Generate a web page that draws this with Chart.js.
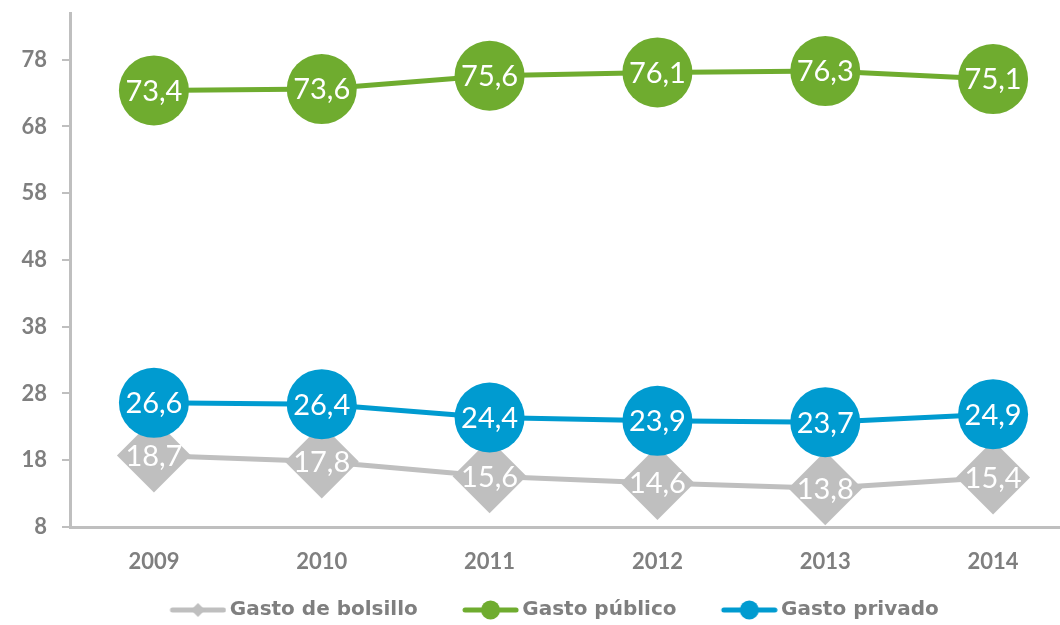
<!DOCTYPE html>
<html>
<head>
<meta charset="utf-8">
<script src="https://cdn.jsdelivr.net/npm/chart.js@4"></script>
<style>
  html, body { margin: 0; padding: 0; background: #fff; overflow: hidden; }
  #wrap { width: 1060px; height: 625px; overflow: hidden; }
</style>
</head>
<body>
<div id="wrap"><canvas id="chart" width="1077" height="625"></canvas></div>
<script>
// Data
var years = ['2009', '2010', '2011', '2012', '2013', '2014'];
var yTicks = [8, 18, 28, 38, 48, 58, 68, 78];
var gastoBolsillo = [18.7, 17.8, 15.6, 14.6, 13.8, 15.4];
var gastoPublico = [73.4, 73.6, 75.6, 76.1, 76.3, 75.1];
var gastoPrivado = [26.6, 26.4, 24.4, 23.9, 23.7, 24.9];

var GREY = '#BFBFBF';
var GREEN = '#6FAC2F';
var BLUE = '#009BD0';
var TEXT = '#7F7F7F';

// line + marker picture for the legend; the transparent left part
// makes the gap between legend entries
function legendIcon(color, shape) {
  var c = document.createElement('canvas');
  c.width = 95;
  c.height = 22;
  var ctx = c.getContext('2d');
  var x0 = 38;
  ctx.strokeStyle = color;
  ctx.fillStyle = color;
  ctx.lineWidth = 5;
  ctx.lineCap = 'round';
  ctx.beginPath();
  ctx.moveTo(x0 + 3, 11);
  ctx.lineTo(x0 + 54, 11);
  ctx.stroke();
  ctx.beginPath();
  if (shape === 'diamond') {
    ctx.moveTo(x0 + 28.5, 4);
    ctx.lineTo(x0 + 35.5, 11);
    ctx.lineTo(x0 + 28.5, 18);
    ctx.lineTo(x0 + 21.5, 11);
    ctx.closePath();
  } else {
    ctx.arc(x0 + 28.5, 11, 9.5, 0, Math.PI * 2);
  }
  ctx.fill();
  return c;
}

var legendIcons = [
  legendIcon(GREY, 'diamond'),
  legendIcon(GREEN, 'circle'),
  legendIcon(BLUE, 'circle')
];

// white value labels inside the markers
var valueLabels = {
  id: 'valueLabels',
  afterDatasetDraw: function(chart, args) {
    var ctx = chart.ctx;
    var ds = chart.data.datasets[args.index];
    ctx.save();
    ctx.font = '29px Lato';
    ctx.fillStyle = '#FFFFFF';
    ctx.textAlign = 'center';
    ctx.textBaseline = 'middle';
    args.meta.data.forEach(function(pt, i) {
      ctx.fillText(ds.data[i].toFixed(1).replace('.', ','), pt.x, pt.y + 1);
    });
    ctx.restore();
  }
};

// nudge the legend down a little, as in the reference
var legendShift = {
  id: 'legendShift',
  afterLayout: function(chart) {
    chart.legend.top += 5;
    chart.legend.bottom += 5;
  }
};

function draw() {
  var ctx = document.getElementById('chart').getContext('2d');
  new Chart(ctx, {
    type: 'line',
    data: {
      labels: years,
      datasets: [{
        label: 'Gasto de bolsillo',
        data: gastoBolsillo,
        borderColor: GREY,
        backgroundColor: GREY,
        borderWidth: 5,
        pointStyle: 'rectRot',
        pointRadius: 37,
        pointBorderWidth: 0,
        pointBackgroundColor: GREY,
        order: 3
      }, {
        label: 'Gasto público',
        data: gastoPublico,
        borderColor: GREEN,
        backgroundColor: GREEN,
        borderWidth: 5,
        pointStyle: 'circle',
        pointRadius: 35,
        pointBorderWidth: 0,
        pointBackgroundColor: GREEN,
        order: 1
      }, {
        label: 'Gasto privado',
        data: gastoPrivado,
        borderColor: BLUE,
        backgroundColor: BLUE,
        borderWidth: 5,
        pointStyle: 'circle',
        pointRadius: 35,
        pointBorderWidth: 0,
        pointBackgroundColor: BLUE,
        order: 2
      }]
    },
    options: {
      responsive: false,
      animation: false,
      layout: { autoPadding: false, padding: { top: 13, right: 0, left: 0, bottom: 0 } },
      scales: {
        x: {
          offset: true,
          grid: { display: false, drawTicks: false },
          border: { display: true, color: GREY, width: 3 },
          ticks: {
            color: TEXT,
            padding: 22,
            font: { family: 'Lato', size: 22, weight: 'bold' }
          },
          afterFit: function(scale) { scale.height = 55; }
        },
        y: {
          min: 8,
          max: 85,
          afterBuildTicks: function(scale) {
            scale.ticks = yTicks.map(function(v) { return { value: v }; });
          },
          grid: { drawOnChartArea: false, drawTicks: true, tickLength: 8, color: GREY, lineWidth: 2 },
          border: { display: true, color: GREY, width: 3 },
          ticks: {
            color: TEXT,
            padding: 15,
            font: { family: 'Lato', size: 22, weight: 'bold' }
          },
          afterFit: function(scale) {
            scale.width = 70;
            scale.paddingTop = 0;
            scale.paddingBottom = 0;
          }
        }
      },
      plugins: {
        tooltip: { enabled: false },
        legend: {
          position: 'bottom',
          labels: {
            usePointStyle: true,
            pointStyleWidth: 81.5,
            padding: 13,
            color: TEXT,
            font: { family: 'DejaVu Sans', size: 20, weight: 'bold' },
            generateLabels: function(chart) {
              var items = Chart.defaults.plugins.legend.labels.generateLabels(chart);
              items.forEach(function(it) { it.pointStyle = legendIcons[it.datasetIndex]; });
              return items;
            },
            sort: function(a, b) { return a.datasetIndex - b.datasetIndex; }
          }
        }
      }
    },
    plugins: [valueLabels, legendShift]
  });
}

Promise.all([
  document.fonts.load('29px Lato'),
  document.fonts.load('bold 22px Lato'),
  document.fonts.load('bold 20px "DejaVu Sans"')
]).then(draw, draw);
</script>
</body>
</html>
